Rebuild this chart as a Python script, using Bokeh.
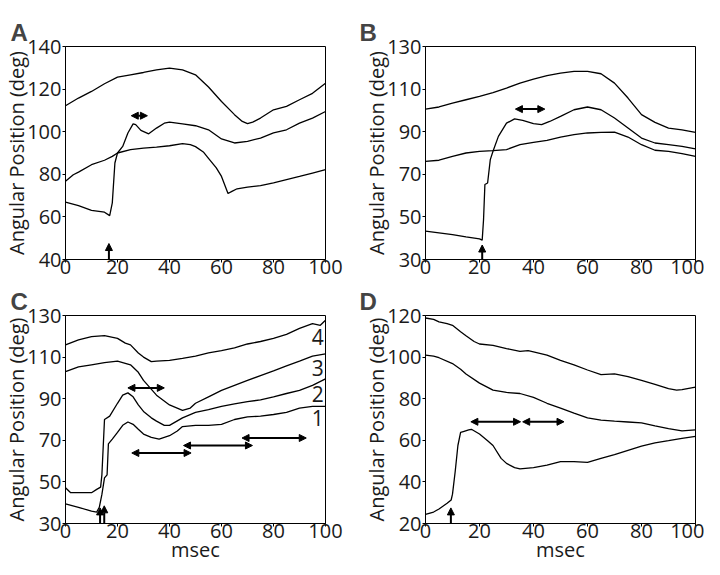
from bokeh.plotting import figure
from bokeh.models import Range1d, Arrow, NormalHead, FixedTicker
from bokeh.layouts import column, row
from bokeh.embed import file_html
from bokeh.resources import INLINE
from bokeh.core.properties import value

X_TICKS = [0, 20, 40, 60, 80, 100]
Y_LABEL = "Angular Position (deg)"
X_LABEL = "msec"

# ---------------- Panel A ----------------
a_top_x = [0, 5, 10, 15, 20, 25, 30, 35, 40, 45, 50, 55, 60, 65, 68, 70, 72, 75, 80, 85, 90, 95, 100]
a_top_y = [112.2, 115.8, 118.9, 122.5, 125.6, 126.7, 127.8, 129.0, 129.8, 129.0, 126.7, 121.0, 114.2,
           108.0, 104.8, 103.8, 104.5, 106.4, 110.3, 111.9, 115.0, 118.0, 122.8]
a_mid_x = [0, 3, 5, 10, 15, 18, 20, 25, 30, 35, 40, 45, 48, 50, 53, 55, 58, 60, 62.5, 64, 66, 70, 75,
           80, 85, 90, 95, 100]
a_mid_y = [76.7, 79.8, 81.0, 84.5, 86.6, 88.4, 90.0, 91.6, 92.3, 92.8, 93.4, 94.4, 93.9, 93.0, 90.5,
           87.5, 83.0, 79.0, 71.0, 72.0, 73.2, 74.0, 74.7, 76.0, 77.5, 79.0, 80.6, 82.2]
a_jump_x = [0, 5, 10, 15, 17, 18, 19, 20, 22, 24, 26, 27, 29, 32, 35, 38, 40, 45, 50, 55, 60, 65, 70,
            75, 80, 85, 90, 95, 100]
a_jump_y = [66.9, 65.3, 63.1, 62.2, 60.6, 66.6, 85.3, 90.0, 93.1, 99.4, 103.7, 103.3, 100.6, 99.0,
            101.7, 104.0, 104.5, 103.7, 102.8, 100.9, 96.6, 94.7, 95.5, 97.0, 99.4, 100.9, 104.0,
            106.4, 109.5]
a_harrow_x0 = [25.3]
a_harrow_x1 = [31.5]
a_harrow_y = [107.5]
a_uparrow_x = [16.7]
a_uparrow_y1 = [47.5]

# ---------------- Panel B ----------------
b_top_x = [0, 5, 10, 15, 20, 25, 30, 35, 40, 45, 50, 55, 60, 65, 70, 75, 80, 85, 90, 95, 100]
b_top_y = [100.6, 101.6, 103.4, 105.0, 106.6, 108.4, 110.5, 112.8, 114.7, 116.3, 117.5, 118.3, 118.3,
           117.2, 112.8, 105.8, 98.0, 94.4, 91.7, 90.9, 89.7]
b_mid_x = [0, 5, 10, 15, 20, 25, 30, 35, 40, 45, 50, 55, 60, 65, 70, 75, 80, 85, 90, 95, 100]
b_mid_y = [76.1, 76.6, 78.4, 80.0, 80.8, 81.1, 81.6, 83.9, 85.0, 85.9, 87.5, 88.6, 89.4, 89.7, 89.8,
           87.5, 83.9, 81.3, 80.8, 79.7, 78.4]
b_jump_x = [0, 5, 10, 15, 20, 21, 21.5, 22, 23, 24, 25, 27, 30, 33, 36, 40, 43, 46, 50, 55, 60, 65, 70,
            75, 80, 85, 90, 95, 100]
b_jump_y = [43.3, 42.5, 41.7, 40.6, 39.7, 39.1, 48.8, 65.2, 65.9, 76.9, 80.8, 87.8, 94.0, 96.0, 95.3,
            93.8, 93.3, 94.8, 97.2, 100.3, 101.6, 100.3, 96.4, 91.7, 87.0, 84.7, 83.9, 83.1, 81.9]
b_harrow_x0 = [33.3]
b_harrow_x1 = [44.2]
b_harrow_y = [100.6]
b_uparrow_x = [21.0]
b_uparrow_y1 = [36.8]

# ---------------- Panel C ----------------
c4_x = [0, 5, 10, 15, 20, 23, 25, 28, 30, 33, 35, 40, 45, 50, 55, 60, 65, 70, 75, 80, 85, 90, 95, 98, 100]
c4_y = [115.9, 118.3, 119.8, 120.3, 119.0, 116.7, 115.9, 112.0, 110.0, 107.8, 108.1, 108.4, 109.4,
        110.5, 112.0, 113.1, 114.4, 116.3, 117.5, 119.0, 120.9, 123.8, 126.1, 125.3, 127.7]
c3_x = [0, 5, 10, 15, 20, 25, 28, 30, 35, 40, 45, 48, 50, 55, 60, 65, 70, 75, 80, 85, 90, 95, 100]
c3_y = [103.0, 105.3, 106.3, 107.3, 108.1, 106.3, 102.7, 98.8, 91.7, 87.0, 84.4, 85.5, 87.8, 90.9,
        94.0, 96.4, 98.8, 101.1, 103.4, 105.8, 108.1, 110.5, 111.6]
c2_x = [0, 2, 5, 10, 12, 13.5, 14, 15, 17, 20, 22, 24, 26, 28, 30, 33, 35, 38, 40, 45, 50, 55, 60, 65,
        70, 75, 80, 85, 90, 95, 100]
c2_y = [47.2, 44.8, 44.8, 44.8, 46.4, 47.5, 53.4, 80.0, 81.6, 87.8, 91.7, 92.8, 90.9, 87.0, 83.9, 80.8,
        79.2, 77.2, 77.2, 80.8, 83.4, 84.7, 86.3, 87.5, 88.6, 89.4, 90.9, 92.5, 94.0, 96.4, 99.5]
c1_x = [0, 5, 10, 12, 13, 14, 15, 16, 16.5, 18, 20, 22, 24, 26, 28, 30, 33, 36, 40, 43, 45, 50, 55, 60,
        65, 70, 75, 80, 85, 90, 95, 100]
c1_y = [39.4, 37.8, 35.9, 35.5, 37.8, 44.0, 51.9, 53.4, 68.3, 70.6, 73.8, 77.2, 78.8, 77.7, 75.3, 73.0,
        71.4, 70.6, 72.2, 74.5, 76.6, 77.2, 77.2, 77.7, 80.0, 81.3, 81.6, 82.4, 83.4, 85.5, 86.3, 86.3]
c_harrow_x0 = [24.0, 25.5, 45.4, 67.9]
c_harrow_x1 = [38.0, 48.3, 71.9, 92.6]
c_harrow_y = [95.2, 63.9, 67.5, 71.1]
c_uparrow_x = [13.3, 14.9]
c_uparrow_y1 = [37.5, 38.5]
c_tag_text = ["4", "3", "2", "1"]
c_tag_x = [97, 97, 97, 97]
c_tag_y = [119.8, 105.0, 92.5, 80.8]

# ---------------- Panel D ----------------
d_top_x = [0, 3, 5, 8, 10, 13, 15, 18, 20, 25, 30, 35, 38, 40, 45, 50, 55, 60, 65, 70, 75, 80, 85, 90,
           93, 95, 100]
d_top_y = [118.8, 118.1, 116.9, 116.1, 115.3, 112.2, 110.3, 107.5, 106.3, 105.6, 104.1, 102.8, 103.1,
           102.5, 100.9, 98.4, 96.3, 93.8, 91.6, 91.9, 90.6, 88.8, 86.9, 84.8, 84.1, 84.4, 85.6]
d_mid_x = [0, 3, 5, 10, 13, 15, 20, 25, 30, 35, 40, 45, 50, 55, 60, 65, 70, 75, 80, 85, 90, 95, 100]
d_mid_y = [100.9, 100.5, 99.7, 96.9, 94.2, 91.9, 87.5, 84.1, 83.0, 82.5, 80.6, 77.8, 75.5, 73.1, 70.8,
           69.7, 69.2, 68.8, 68.4, 66.9, 65.6, 64.5, 65.0]
d_jump_x = [0, 3, 5, 8, 9.5, 10, 11, 12, 13, 14, 16, 17, 20, 23, 25, 28, 30, 33, 35, 40, 45, 50, 55, 60,
            65, 70, 75, 80, 85, 90, 95, 100]
d_jump_y = [24.4, 25.5, 27.0, 29.7, 31.3, 34.1, 45.0, 57.5, 63.8, 64.2, 65.0, 65.3, 63.0, 59.8, 57.5,
            51.3, 48.9, 46.9, 46.3, 46.9, 48.1, 49.7, 49.7, 49.4, 51.3, 53.1, 55.2, 57.2, 58.8, 59.8,
            60.9, 61.9]
d_harrow_x0 = [16.8, 36.0]
d_harrow_x1 = [35.2, 51.3]
d_harrow_y = [68.9, 68.9]
d_uparrow_x = [9.4]
d_uparrow_y1 = [27.5]

FONT = "Open Sans"


def make_panel(letter, y_lo, y_hi, curves, hx0, hx1, hy, ux, uy1, w, h, bl, br, bt, bb,
               title_offset, xlabel=None, tags=None):
    p = figure(width=w, height=h, x_range=Range1d(0, 100), y_range=Range1d(y_lo, y_hi),
               output_backend="svg", toolbar_location=None,
               min_border_left=bl, min_border_right=br, min_border_top=bt, min_border_bottom=bb)
    p.grid.visible = False
    p.outline_line_color = "black"
    p.outline_line_alpha = 1
    p.outline_line_width = 1
    p.xaxis.ticker = FixedTicker(ticks=X_TICKS)
    p.yaxis.ticker = FixedTicker(ticks=list(range(y_lo, y_hi + 1, 20)))
    for ax in (p.xaxis[0], p.yaxis[0]):
        ax.major_tick_out = 3
        ax.major_tick_in = 0
        ax.minor_tick_out = 0
        ax.minor_tick_in = 0
        ax.axis_line_color = "black"
        ax.major_tick_line_color = "black"
        ax.major_label_text_font = FONT
        ax.major_label_text_font_size = "20px"
        ax.major_label_text_color = "#1a1a1a"
        ax.axis_label_text_font = FONT
        ax.axis_label_text_font_size = "20px"
        ax.axis_label_text_font_style = "normal"
        ax.axis_label_text_color = "#1a1a1a"
        ax.major_label_text_line_height = 0.9
        ax.axis_label_text_line_height = 0.9
    p.yaxis.major_label_standoff = 1
    p.yaxis.axis_label_standoff = -6
    p.xaxis.major_label_standoff = -3
    p.xaxis.axis_label_standoff = -5
    p.yaxis.axis_label = Y_LABEL
    if xlabel:
        p.xaxis.axis_label = xlabel
    p.title.text = letter
    p.title.text_font = "Liberation Sans"
    p.title.text_font_style = "bold"
    p.title.text_font_size = "24px"
    p.title.align = "left"
    p.title.offset = title_offset
    p.title.standoff = 2

    for cx, cy in curves:
        p.line(cx, cy, line_color="black", line_width=1.3)

    for x0, x1, yy in zip(hx0, hx1, hy):
        p.add_layout(Arrow(x_start=x0, y_start=yy, x_end=x1, y_end=yy, line_width=2,
                           start=NormalHead(size=7, fill_color="black", line_color="black"),
                           end=NormalHead(size=7, fill_color="black", line_color="black")))
    for xx, yy in zip(ux, uy1):
        p.add_layout(Arrow(x_start=xx, y_start=y_lo, x_end=xx, y_end=yy, line_width=2,
                           end=NormalHead(size=7, fill_color="black", line_color="black")))
    if tags:
        tx, ty, tt = tags
        p.text(x=tx, y=ty, text=tt, text_align="center", text_baseline="middle",
               text_font=value(FONT), text_font_size="21px", text_color="#1a1a1a")
    return p


pa = make_panel("A", 40, 140, [(a_top_x, a_top_y), (a_mid_x, a_mid_y), (a_jump_x, a_jump_y)],
                a_harrow_x0, a_harrow_x1, a_harrow_y, a_uparrow_x, a_uparrow_y1,
                352, 284, 55, 27, 46, 25, -55)
pb = make_panel("B", 30, 130, [(b_top_x, b_top_y), (b_mid_x, b_mid_y), (b_jump_x, b_jump_y)],
                b_harrow_x0, b_harrow_x1, b_harrow_y, b_uparrow_x, b_uparrow_y1,
                352, 284, 73, 9, 46, 25, -66)
pc = make_panel("C", 30, 130, [(c4_x, c4_y), (c3_x, c3_y), (c2_x, c2_y), (c1_x, c1_y)],
                c_harrow_x0, c_harrow_x1, c_harrow_y, c_uparrow_x, c_uparrow_y1,
                352, 282, 55, 27, 30, 43, -55, xlabel=X_LABEL, tags=(c_tag_x, c_tag_y, c_tag_text))
pd_ = make_panel("D", 20, 120, [(d_top_x, d_top_y), (d_mid_x, d_mid_y), (d_jump_x, d_jump_y)],
                 d_harrow_x0, d_harrow_x1, d_harrow_y, d_uparrow_x, d_uparrow_y1,
                 352, 282, 73, 9, 30, 43, -66, xlabel=X_LABEL)

layout = column(row(pa, pb), row(pc, pd_))
open("out.html", "w").write(file_html(layout, INLINE))
